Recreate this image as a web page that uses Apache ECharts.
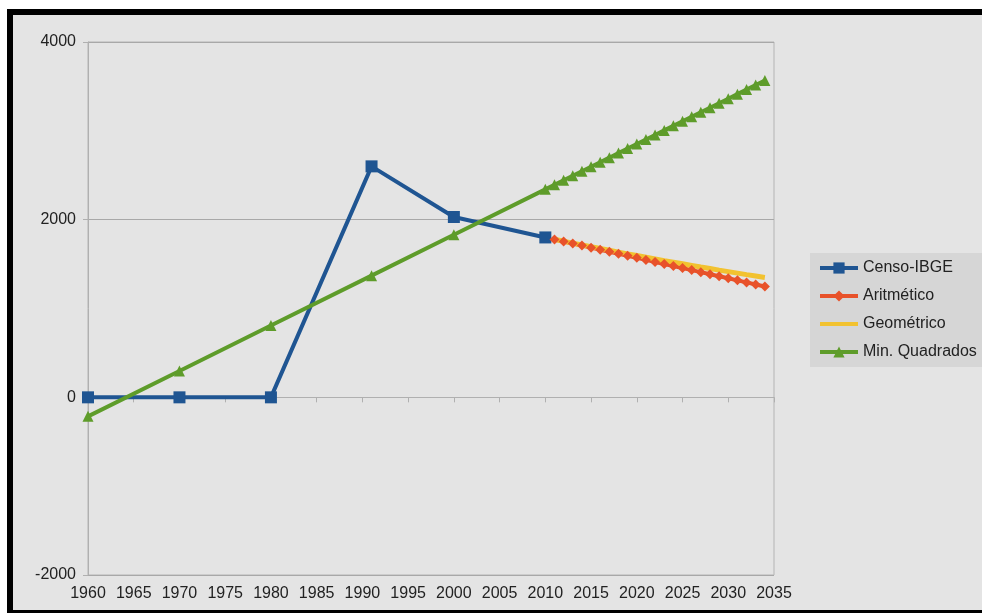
<!DOCTYPE html>
<html>
<head>
<meta charset="utf-8">
<script src="https://cdn.jsdelivr.net/npm/echarts@6/dist/echarts.min.js"></script>
<style>
  html, body { margin: 0; padding: 0; background: #fff; }
  .frame {
    position: absolute; left: 7px; top: 9px; width: 975px; height: 604px;
    box-sizing: border-box; background: #e4e4e4;
    border-top: 6px solid #000; border-left: 6px solid #000; border-bottom: 3px solid #000;
  }
  #chart { position: absolute; left: 0; top: 0; width: 982px; height: 613px; }
</style>
</head>
<body>
<div class="frame"></div>
<div id="chart"></div>
<script>
// censo
var censoAnos = [1960, 1970, 1980, 1991, 2000, 2010];
var censoPop = [0, 0, 0, 2600, 2030, 1800];

// projecoes 2011..2034
var projAnos = [2011, 2012, 2013, 2014, 2015, 2016, 2017, 2018, 2019, 2020, 2021, 2022,
                2023, 2024, 2025, 2026, 2027, 2028, 2029, 2030, 2031, 2032, 2033, 2034];
var aritmetico = [1777, 1754, 1731, 1708, 1685, 1662, 1639, 1616, 1593, 1570, 1547, 1524,
                  1501, 1478, 1455, 1432, 1409, 1386, 1363, 1340, 1317, 1294, 1271, 1248];
var geometrico = [1779, 1757, 1736, 1715, 1695, 1675, 1655, 1635, 1615, 1596, 1577, 1558,
                  1539, 1521, 1503, 1485, 1467, 1450, 1432, 1415, 1398, 1381, 1365, 1349];

// minimos quadrados (anos do censo + projecao)
var mqAnos = censoAnos.concat(projAnos);
var minQuadrados = [-214, 297, 808, 1370, 1830, 2341,
                    2392, 2443, 2494, 2545, 2596, 2647, 2698, 2750, 2801, 2852, 2903, 2954,
                    3005, 3056, 3107, 3158, 3209, 3260, 3311, 3362, 3413, 3465, 3516, 3567];

function pares(xs, ys) {
  return xs.map(function (x, i) { return [x, ys[i]]; });
}
function semMilhar(v) { return String(v); }

var fonte = 'Liberation Sans, Arial, sans-serif';
var myChart = echarts.init(document.getElementById('chart'));
myChart.setOption({
  animation: false,
  grid: {
    left: 88, top: 42, right: 208, bottom: 38,
    show: true, borderColor: '#b4b4b4', borderWidth: 1,
    backgroundColor: 'transparent'
  },
  legend: {
    orient: 'vertical',
    left: 810, top: 253,
    padding: [7, 10, 7, 8],
    itemGap: 12,
    itemWidth: 38, itemHeight: 14,
    backgroundColor: '#d6d6d6',
    lineStyle: { width: 4 },
    textStyle: { fontFamily: fonte, fontSize: 16, color: '#222' },
    data: [
      'Censo-IBGE',
      'Aritmético',
      { name: 'Geométrico', itemStyle: { opacity: 0 } },
      'Min. Quadrados'
    ]
  },
  xAxis: [
    {
      type: 'value', min: 1960, max: 2035, interval: 5,
      axisLine: { show: false, onZero: false },
      axisTick: { show: false },
      splitLine: { show: false },
      axisLabel: { fontFamily: fonte, fontSize: 16, color: '#222', margin: 11, formatter: semMilhar }
    },
    {
      type: 'value', min: 1960, max: 2035, interval: 5,
      position: 'bottom',
      axisLine: { show: true, onZero: true, lineStyle: { color: '#b0b0b0', width: 1 } },
      axisTick: { show: true, length: 5, lineStyle: { color: '#b0b0b0' } },
      axisLabel: { show: false },
      splitLine: { show: false }
    }
  ],
  yAxis: {
    type: 'value', min: -2000, max: 4000, interval: 2000,
    axisLine: { show: true, lineStyle: { color: '#b0b0b0' } },
    axisTick: { show: true, length: 5, lineStyle: { color: '#b0b0b0' } },
    splitLine: { show: true, lineStyle: { color: '#a8a8a8', width: 1 } },
    axisLabel: { fontFamily: fonte, fontSize: 16, color: '#222', margin: 12, formatter: semMilhar }
  },
  series: [
    {
      name: 'Censo-IBGE', type: 'line',
      data: pares(censoAnos, censoPop),
      symbol: 'rect', symbolSize: 12,
      lineStyle: { width: 4, color: '#1f5592' },
      itemStyle: { color: '#1f5592' }
    },
    {
      name: 'Aritmético', type: 'line',
      data: pares(projAnos, aritmetico),
      symbol: 'diamond', symbolSize: 10,
      lineStyle: { width: 4, color: '#e8522a' },
      itemStyle: { color: '#e8522a' }
    },
    {
      name: 'Geométrico', type: 'line',
      data: pares(projAnos, geometrico),
      symbol: 'none',
      lineStyle: { width: 5, color: '#f2c230' },
      itemStyle: { color: '#f2c230' }
    },
    {
      name: 'Min. Quadrados', type: 'line',
      data: pares(mqAnos, minQuadrados),
      symbol: 'triangle', symbolSize: 11,
      lineStyle: { width: 4, color: '#5e9c2a' },
      itemStyle: { color: '#5e9c2a' }
    }
  ]
});
</script>
</body>
</html>
